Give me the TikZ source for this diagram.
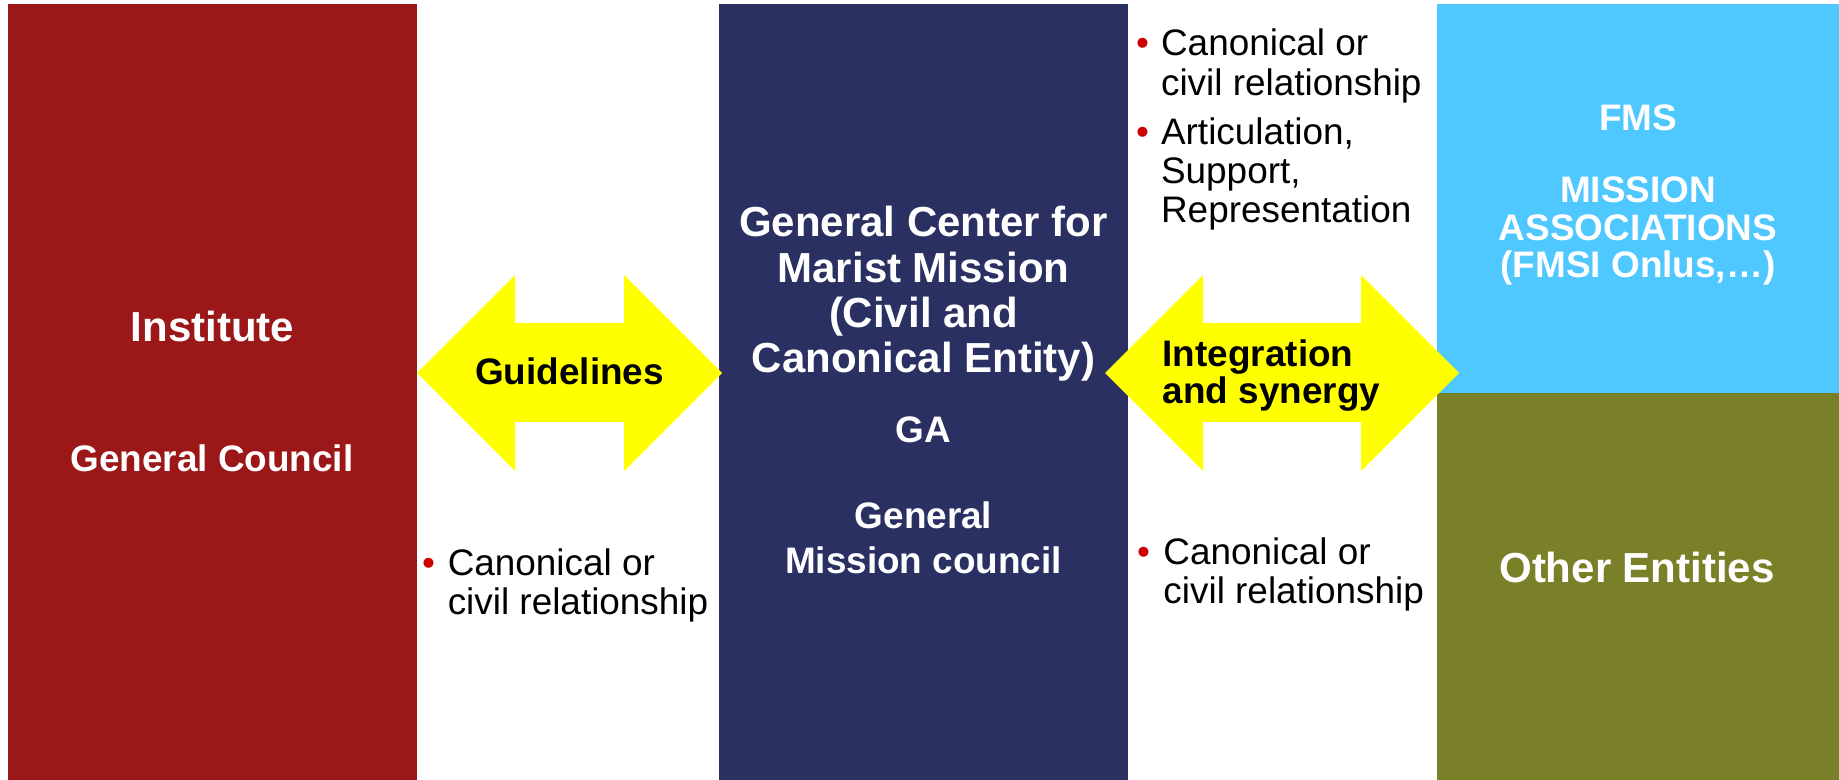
\documentclass[tikz,border=0pt]{standalone}
\usepackage{fontspec}
\setmainfont{Liberation Sans}
\usetikzlibrary{positioning}

\definecolor{instred}{RGB}{155,23,24}
\definecolor{centernavy}{RGB}{42,48,98}
\definecolor{fmscyan}{RGB}{79,199,255}
\definecolor{otherolive}{RGB}{122,128,39}
\definecolor{arrowyellow}{RGB}{255,255,0}
\definecolor{bulletred}{RGB}{204,0,0}

\newcommand{\bigbold}{\bfseries\fontsize{11.95}{12.9}\selectfont}
\newcommand{\midbold}{\bfseries\fontsize{10.5}{12.8}\selectfont}
\newcommand{\plaintext}{\fontsize{10.5}{11.1}\selectfont}
\newcommand{\bul}{{\color{bulletred}\textbullet}}
% double block arrow between two tip positions (x of left tip, x of right tip)
\newcommand{\dblarrow}[2]{%
  \fill[arrowyellow] (#1,3.73) -- ++(0.98,-0.98) -- ++(0,0.48) -- ({#2-0.98},3.23)
    -- ++(0,-0.48) -- (#2,3.73) -- ({#2-0.98},4.71) -- ++(0,-0.49)
    -- ({#1+0.98},4.22) -- ++(0,0.49) -- cycle;}

\tikzset{
  boxlabel/.style={text=white, align=center, inner sep=0pt, anchor=base},
  arrowlabel/.style={text=black, inner sep=0pt},
  bullets/.style={text=black, inner sep=0pt, anchor=base west, font=\plaintext}
}

\begin{document}
\begin{tikzpicture}[x=1cm, y=-1cm]
    \useasboundingbox (0,0) rectangle (18.39,7.80);

    % Coloured columns
    \fill[instred] (0.08,0.04) rectangle (4.17,7.80);
    \fill[centernavy] (7.19,0.04) rectangle (11.28,7.80);
    \fill[fmscyan] (14.37,0.04) rectangle (18.39,3.93);
    \fill[otherolive] (14.37,3.93) rectangle (18.39,7.80);

    % Institute
    \node[boxlabel, font=\bigbold] (institute) at (2.125,3.42) {Institute};
    \node[boxlabel, font=\midbold] (council) at (2.12,4.71) {General Council};

    % General Center (base = last line)
    \node[boxlabel, font=\bigbold] (center) at (9.235,3.73)
        {General Center for\\Marist Mission\\(Civil and\\Canonical Entity)};
    \node[boxlabel, font=\midbold] (ga) at (9.235,4.43) {GA};
    \node[boxlabel, font=\midbold] (missioncouncil) at (9.235,5.73)
        {General\\Mission council};

    % Right column
    \node[boxlabel, font=\midbold] (fms) at (16.38,2.78)
        {FMS\\[7.7pt]MISSION\\[-2pt]ASSOCIATIONS\\[-2pt](FMSI Onlus,…)};
    \node[boxlabel, font=\bigbold] (other) at (16.37,5.82) {Other Entities};

    % Block arrows
    \dblarrow{4.17}{7.22}
    \dblarrow{11.05}{14.59}
    \node[arrowlabel, anchor=base, font=\midbold] (guidelines) at (5.695,3.85) {Guidelines};
    \node[arrowlabel, anchor=base west, align=left, font=\bfseries\fontsize{10.5}{10.8}\selectfont]
        (synergy) at (11.62,4.04) {Integration\\and synergy};

    % Relationship notes
    \node[bullets] (leftnote) at (4.215,5.75)
        {\begin{tabular}[t]{@{}l@{\hspace{3.6pt}}l@{}}
          \bul & Canonical or\\
               & civil relationship
         \end{tabular}};
    \node[bullets] (topnote) at (11.355,0.56)
        {\begin{tabular}[t]{@{}l@{\hspace{3.4pt}}l@{}}
          \bul & Canonical or\\
               & civil relationship\\[2.85pt]
          \bul & Articulation,\\
               & Support,\\
               & Representation
         \end{tabular}};
    \node[bullets] (bottomnote) at (11.365,5.64)
        {\begin{tabular}[t]{@{}l@{\hspace{3.8pt}}l@{}}
          \bul & Canonical or\\
               & civil relationship
         \end{tabular}};
\end{tikzpicture}
\end{document}
